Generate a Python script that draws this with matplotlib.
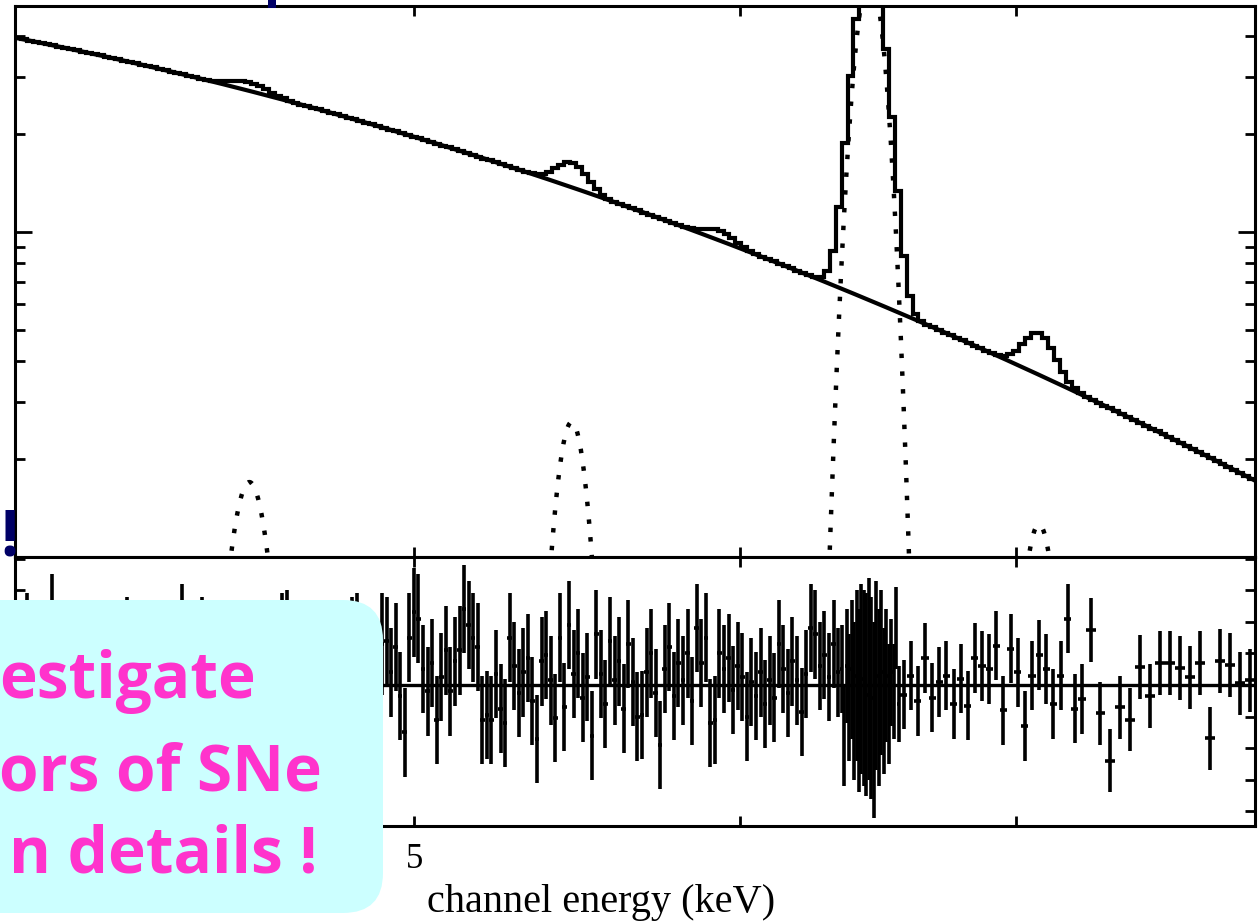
import matplotlib
matplotlib.use("Agg")
import matplotlib.pyplot as plt
import numpy as np
from matplotlib.patches import FancyBboxPatch, Rectangle
from matplotlib.ticker import FixedLocator, NullFormatter


W, H = 1260, 922

# continuum level (keV, counts)
cont_energy = [4.00, 4.29, 4.96, 5.40, 5.87, 6.31, 6.94, 7.54, 7.97]
cont_level = [3.95, 3.31, 1.97, 1.45, 1.01, 0.669, 0.418, 0.255, 0.173]

# gaussian lines (centre keV, peak, sigma keV)
line_center = [4.56, 5.46, 5.93, 6.45, 7.09]
line_peak = [0.17, 0.26, 0.07, 6.1, 0.126]
line_sigma = [0.046, 0.045, 0.050, 0.050, 0.060]

# residuals, grouped in energy segments (value, error)
resid_edges = [4.0, 4.917, 6.345, 6.56, 7.277, 8.0]
resid_a = [0.2, -0.6, 1.3, 0.4, -0.9, 0.7, -0.3, 1.9, 0.1, -1.1,
           0.5, 0.9, -0.45, 0.15, -1.4, 0.6, 0.8, -0.2, 0.4, -0.75,
           0.3, 1.0, 1.2, -0.5, 0.0, -1.05, 0.7, 0.45, -0.15, 0.75,
           -0.8, 0.2, -0.4, 1.6, 0.3, -1.2, 0.5, 1.2, -0.7, 0.15,
           0.9, -0.3, 0.45, 1.1, -1.0, 0.1, 0.7, -1.5, 0.4, 0.8,
           -0.45, 0.2, 1.05, 1.3, 1.4, 0.6, -0.9, 0.3, 1.0, -0.4,
           0.15, -1.3, 0.75, 0.45, -0.6, 0.9, 0.3, 1.2, 1.3, -0.2,
           0.8, 0.5, -0.75, 1.3]
resid_b = [1.4, 0.4, 1.2, -0.35, -1.5, 1.5, 2.3, 2.1, 0.5, -0.2,
           0.7, -1.1, 0.25, 1.1, -0.2, 0.75, 1.1, 2.4, 1.9, 1.5,
           1.2, -1.1, -0.95, -1.1, 0.35, -0.75, -1.2, 1.5, 0.6, -0.25,
           0.4, 0.85, -0.5, -1.7, 0.75, 0.95, 0.15, -1.05, 1.5, -0.7,
           1.9, 0.35, 1.0, -0.4, 0.25, -1.6, 1.6, 0.35, -0.6, 1.4,
           0.15, 0.75, -0.75, 1.3, 0.1, -1.0, -0.95, 0.4, 1.0, -0.25,
           -1.9, 0.5, 1.2, -0.35, 0.7, 0.15, 1.0, -0.5, 1.8, 0.7,
           1.5, -1.2, -1.1, 1.0, 0.5, 0.85, -0.15, 0.6, 0.25, -1.0,
           0.1, -0.35, 0.4, -0.6, 0.15, -0.4, 1.3, 0.5, -0.25, 0.75,
           0.15, -0.85, 0.35, 1.8, 1.6, 0.6, 0.95, 0.25, 1.3, 0.4]
resid_c = [0.5, -1.6, 0.6, -0.4, 0.5, -0.5, 0.3, -0.5, 0.2, -0.1,
           -0.3, 0.2, -0.4, -1.1, 0.3, -0.4, 0.4, -0.5, 0.3, -0.6,
           0.4, -0.2, 1.8, -0.6]
resid_d = [-0.3, 0.3, -0.5, 0.85, -0.4, 0.1, 0.3, -0.6, 0.2, -0.65,
           0.85, 0.6, 0.5, 1.25, -0.8, 1.15, 0.4, -1.3, 0.3, 0.95,
           0.5, -0.6, 0.3, 2.1, -0.75, -0.45]
resid_e = [1.74, -0.9, -2.4, -0.7, -1.1, 0.57, -0.35, 0.7, 0.7, 0.54,
           0.25, 0.7, -1.68, 0.76, 0.63, 0.05, 0.15]
err_c = [1.4, 1.6, 1.8, 2.0, 2.2, 2.5, 2.7, 2.9, 3.0, 3.1,
         3.2, 3.2, 3.2, 3.1, 3.0, 2.8, 2.6, 2.3, 2.1, 1.9,
         1.7, 1.5, 1.3, 1.2]
resid_groups = [resid_a, resid_b, resid_c, resid_d, resid_e]
err_groups = [1.6, 1.4, err_c, 1.1, 1.0]


def gauss(e, c, p, s):
    return p * np.exp(-0.5 * ((e - c) / s) ** 2)


coef = np.polyfit(np.log10(cont_energy), np.log10(cont_level), 2)


def continuum(e):
    return 10 ** np.polyval(coef, np.log10(e))


fig = plt.figure(figsize=(W / 100, H / 100), dpi=100)
fig.patch.set_facecolor('white')

ax1 = fig.add_axes([15 / W, 1 - 557 / H, 1240 / W, 551 / H])
ax2 = fig.add_axes([15 / W, 1 - 826 / H, 1240 / W, 269 / H])

# --- spectrum panel
edges = np.geomspace(4.0, 8.0, 211)
mids = np.sqrt(edges[:-1] * edges[1:])
total = continuum(mids)
for c, p, s in zip(line_center, line_peak, line_sigma):
    total = total + gauss(mids, c, p, s)
ax1.stairs(total, edges, color='black', lw=3.0, baseline=None)

fine = np.geomspace(4.0, 8.0, 1500)
ax1.plot(fine, continuum(fine), color='black', lw=3.0)
for c, p, s in zip(line_center, line_peak, line_sigma):
    ee = fine[(fine > c - 4 * s) & (fine < c + 4 * s)]
    ax1.plot(ee, gauss(ee, c, p, s), color='black', lw=3.2,
             linestyle=(0, (1, 3)))

ax1.set_xscale('log')
ax1.set_yscale('log')
ax1.set_xlim(4.0, 8.0)
ax1.set_ylim(0.1, 4.95)
ax1.yaxis.set_major_locator(FixedLocator([0.1, 1.0]))
ax1.yaxis.set_minor_locator(FixedLocator([0.2, 0.3, 0.4, 0.5, 0.6, 0.7, 0.8, 0.9, 2, 3, 4]))
ax1.yaxis.set_major_formatter(NullFormatter())
ax1.yaxis.set_minor_formatter(NullFormatter())

# --- residual panel
for k, vals in enumerate(resid_groups):
    be = np.geomspace(resid_edges[k], resid_edges[k + 1], len(vals) + 1)
    bc = np.sqrt(be[:-1] * be[1:])
    ax2.errorbar(bc, vals, xerr=[bc - be[:-1], be[1:] - bc], yerr=err_groups[k],
                 fmt='none', ecolor='black', elinewidth=2.6, capsize=0)
ax2.axhline(0, color='black', lw=2.4)
ax2.set_xscale('log')
ax2.set_xlim(4.0, 8.0)
ax2.set_ylim(-4.46, 4.05)
ax2.yaxis.set_major_locator(FixedLocator([-4, -3, -2, -1, 0, 1, 2, 3, 4]))
ax2.yaxis.set_major_formatter(NullFormatter())

for ax in (ax1, ax2):
    ax.xaxis.set_major_locator(FixedLocator([5]))
    ax.xaxis.set_minor_locator(FixedLocator([6, 7]))
    ax.xaxis.set_minor_formatter(NullFormatter())
    for sp in ax.spines.values():
        sp.set_linewidth(2.2)
    ax.tick_params(which='both', direction='in', top=True, right=True,
                   width=2, color='black')
    ax.tick_params(axis='x', which='both', length=7)
    ax.tick_params(axis='y', which='major', length=12)
    ax.tick_params(axis='y', which='minor', length=7)
ax2.tick_params(axis='y', which='major', length=7)

ax1.xaxis.set_major_formatter(NullFormatter())
ax2.set_xticks([5])
ax2.set_xticklabels(['5'], fontfamily='Liberation Serif', fontsize=25)
ax2.tick_params(axis='x', which='major', pad=12)
ax2.set_xlabel('channel energy (keV)', fontfamily='Liberation Serif',
               fontsize=29, va='baseline')
ax2.xaxis.set_label_coords((601 - 15) / 1240, (826 - 912) / 269)

# --- slide overlay (pixel coordinates)
ov = fig.add_axes([0, 0, 1, 1])
ov.set_xlim(0, W)
ov.set_ylim(H, 0)
ov.axis('off')
ov.add_patch(FancyBboxPatch((-60, 600), 443, 313,
                            boxstyle='round,pad=0,rounding_size=40',
                            fc='#CCFFFF', ec='none'))
pink = '#FF33CC'
box_font = dict(ha='right', va='baseline', color=pink,
                fontfamily='Open Sans', fontweight='bold', fontsize=46)
ov.text(256, 698, 'estigate', **box_font)
ov.text(322, 790, 'ors of SNe', **box_font)
ov.text(318, 872, 'n details !', **box_font)
navy = '#000066'
ov.text(0, 555, '!', ha='left', va='baseline', color=navy,
        fontfamily='Open Sans', fontweight='bold', fontsize=46)
# sliver of a title letter cut by the top edge
ov.add_patch(Rectangle((268, 0), 8, 8, fc=navy, ec='none'))

fig.savefig('out.png', dpi=100)
